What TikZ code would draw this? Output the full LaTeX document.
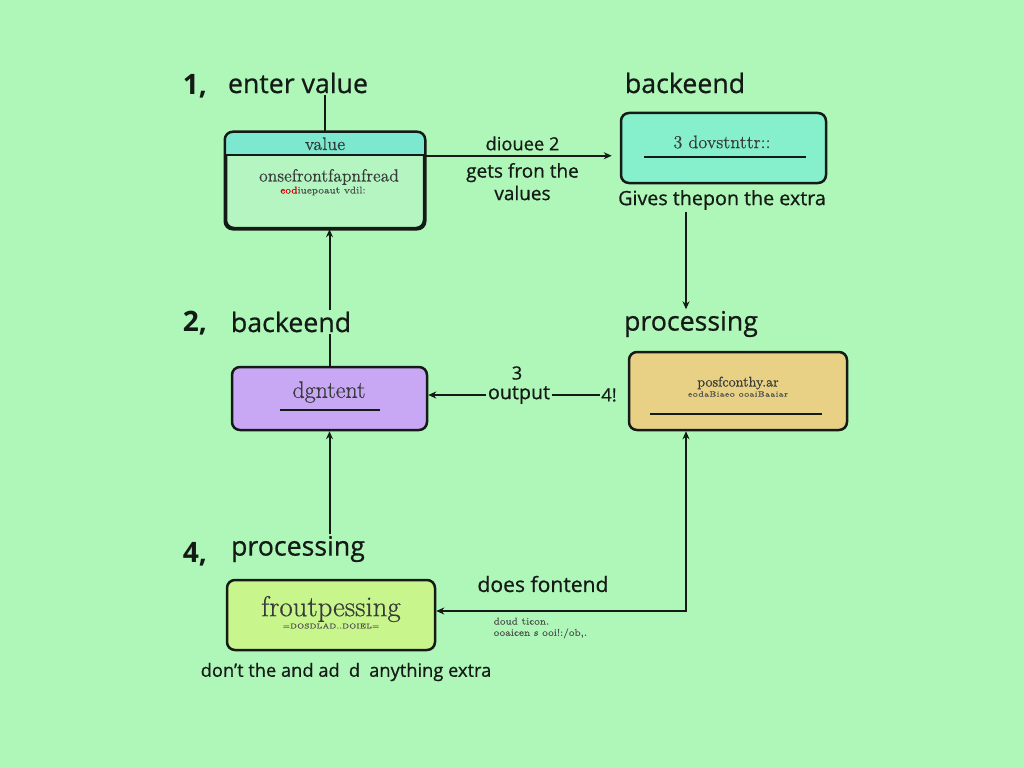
\documentclass[tikz,border=0pt]{standalone}
\usepackage{fontspec}
\setsansfont{Open Sans}
\newfontfamily\medsans{Open Sans}[FakeBold=0.7]
\newfontfamily\boxserif{Latin Modern Roman}[FakeBold=0.5]
\usetikzlibrary{calc,arrows.meta}
\newlength\px
\setlength\px{0.025cm}
\definecolor{bgcol}{HTML}{AFF7B9}
\definecolor{linecol}{HTML}{141A16}
\definecolor{headcol}{HTML}{7CE8CF}
\definecolor{valcol}{HTML}{B4F5C2}
\definecolor{backcol}{HTML}{86F0CD}
\definecolor{agentcol}{HTML}{C8A8F5}
\definecolor{proccol}{HTML}{E8D084}
\definecolor{frontcol}{HTML}{C8F58C}
\tikzset{
	box/.style={draw=linecol, line width=2.5\px, rounded corners=8\px, inner sep=0pt},
	title/.style={font=\medsans\fontsize{19}{22}\selectfont, text=linecol, inner sep=1pt},
	num/.style={font=\sffamily\bfseries\fontsize{20}{22}\selectfont, text=linecol, inner sep=1pt},
	note/.style={font=\medsans\fontsize{13}{16}\selectfont, text=linecol, inner sep=1pt},
	boxtext/.style={font=\boxserif\fontsize{13}{15}\selectfont, text=linecol!85, inner sep=1pt},
	tiny/.style={font=\boxserif\fontsize{7}{8}\selectfont, text=linecol!75, inner sep=1pt},
	conn/.style={draw=linecol, line width=2\px},
	arr/.style={conn, -{Stealth[length=0.2cm,width=0.175cm]}},
}
\begin{document}
\begin{tikzpicture}[x=1\px, y=-1\px]
		\fill[bgcol] (0,0) rectangle (1024,768);
		\useasboundingbox (0,0) rectangle (1024,768);
		% titles
		\node[num] (n1) at (195,86) {1,};
		\node[title] (t1) at (298,83) {enter value};
		\node[title] (t2back) at (685,83) {backeend};
		\node[num] (n2) at (195,323) {2,};
		\node[title] (t2) at (291,322) {backeend};
		\node[title] (t3) at (691,324) {processing};
		\node[num] (n4) at (195,554) {4,};
		\node[title] (t4) at (298,549) {processing};
		% boxes
		\node[box, fill=valcol, minimum width=198\px, minimum height=95\px] (valbox) at (325,180.5) {};
		\begin{scope}
			\clip[rounded corners=0.2cm] (valbox.north west) rectangle (valbox.south east);
			\fill[headcol] (valbox.north west) rectangle ($(valbox.north east)+(0,23)$);
		\end{scope}
		\draw[box] (valbox.north west) rectangle (valbox.south east);
		\draw[conn] ($(valbox.north west)+(0,23)$) -- ($(valbox.north east)+(0,23)$);
		\node[boxtext] (valhead) at ($(valbox.north)+(0,12)$) {value};
		\node[boxtext, font=\boxserif\fontsize{12.5}{13}\selectfont] (valline) at (329,177) {onsefrontfapnfread};
		\node[tiny] (valsub) at (323,191) {{\color{red!80!black}eod}iuepoaut vdil:};
		\node[box, fill=backcol, minimum width=205\px, minimum height=70\px] (backbox) at (723.5,148) {};
		\node[boxtext] (backtext) at (722,142) {3 dovstnttr::};
		\draw[conn] (644,157) -- (806,157);
		\node[note, font=\medsans\fontsize{14}{16}\selectfont] (gives) at (722,200) {Gives thepon the extra};
		\node[box, fill=proccol, minimum width=218\px, minimum height=78\px] (procbox) at (738,391) {};
		\node[boxtext, font=\boxserif\fontsize{10}{11}\selectfont] (proctext) at (738,383) {posfconthy.ar};
		\node[tiny, font=\boxserif\fontsize{5.5}{6}\selectfont] (procsub) at (738,394) {eodaBiaeo ooaiBaaiar};
		\draw[conn] (650,414) -- (822,414);
		\node[box, fill=agentcol, minimum width=195\px, minimum height=63\px] (agentbox) at (329.5,398.5) {};
		\node[boxtext, font=\boxserif\fontsize{17}{19}\selectfont] (agenttext) at (329,392) {dgntent};
		\draw[conn] (280,410) -- (380,410);
		\node[box, fill=frontcol, minimum width=208\px, minimum height=70\px] (frontbox) at (331,615) {};
		\node[boxtext, font=\boxserif\fontsize{20.5}{22}\selectfont] (fronttext) at (331,609) {froutpessing};
		\node[tiny, font=\boxserif\fontsize{5}{6}\selectfont] (frontsub) at (331,626) {=DOSDLAD..DOIEL=};
		\node[note] (dont) at (346,672) {don’t the and ad\enspace d\enspace anything extra};
		% connectors
		\draw[conn] (valbox.north |- t1.south) -- (valbox.north);
		\coordinate (h1) at ($(valbox.north east)+(0,24)$);
		\draw[arr, shorten >=0.2cm] (h1) -- (h1 -| backbox.west)
			node[note, midway, above=2pt] (diouee) {diouee 2}
			node[note, midway, below=3.5pt, align=center, font=\medsans\fontsize{13.5}{16}\selectfont] (gets) {gets fron the\\values};
		\coordinate (rail) at (686,611);
		\draw[arr] (gives.south -| rail) -- (t3.north -| rail);
		\draw[conn] (agentbox.north |- t2.south) -- (agentbox.north);
		\draw[arr] (t2.north -| agentbox.north) -- (agentbox.north |- valbox.south);
		\draw[arr] (t4.north -| agentbox.south) -- (agentbox.south);
		\node[note] (three) at (517,373) {3};
		\node[note, font=\medsans\fontsize{14}{16}\selectfont] (output) at (519,395) {output};
		\node[note] (four) at (609,395) {4!};
		\draw[arr] (output.west) -- (output.west -| agentbox.east);
		\draw[conn] (output.east) -- (output.east -| four.west);
		\draw[conn, {Stealth[length=0.2cm,width=0.175cm]}-{Stealth[length=0.2cm,width=0.175cm]}] (frontbox.east |- rail) -- (rail) -- (rail |- procbox.south);
		\node[note, font=\medsans\fontsize{15}{17}\selectfont] (fontend) at (543,584) {does fontend};
		\node[tiny, anchor=west, align=left] (doud) at (492,628) {doud ticon.\\ooaicen s ooi!:/ob,.};
	\end{tikzpicture}
\end{document}
